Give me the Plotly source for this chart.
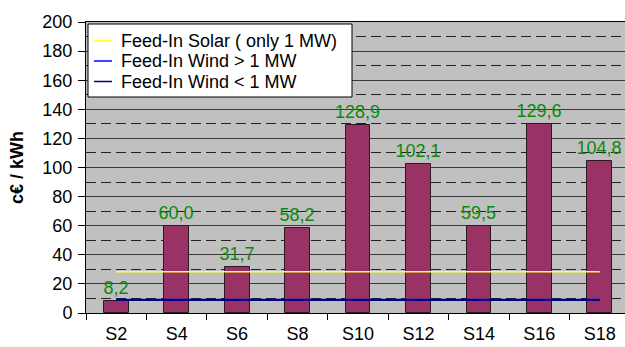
import plotly.graph_objects as go

# Categories and tariff values (c€ / kWh)
categories = ["S2", "S4", "S6", "S8", "S10", "S12", "S14", "S16", "S18"]
costs = [8.2, 60.0, 31.7, 58.2, 128.9, 102.1, 59.5, 129.6, 104.8]

# Reference feed-in tariffs
tariff_names = ["Feed-In Solar ( only 1 MW)", "Feed-In Wind > 1 MW", "Feed-In Wind < 1 MW"]
tariff_values = [28.4, 9.1, 8.9]
tariff_colors = ["#FFFF33", "#0000FF", "#000080"]
tariff_widths = [1.5, 2, 2]

font_family = "Liberation Sans, Arial, sans-serif"
n = len(categories)

W, H = 625, 347
ML, MR, MT, MB = 86, 0, 22, 34


def px_x(p):
    return (p - ML) / (W - ML - MR)


def px_y(p):
    return (H - MB - p) / (H - MT - MB)


fig = go.Figure()

fig.add_trace(go.Bar(
    x=categories, y=costs,
    width=0.41,
    marker=dict(color="#993366", line=dict(color="#2a1a20", width=1)),
    texttemplate="%{y:.1f}",
    textposition="outside",
    textangle=0,
    constraintext="none",
    textfont=dict(color="#0a8a0a", size=18, family=font_family),
    cliponaxis=False,
    showlegend=False,
))

for name, val, col, w in zip(tariff_names, tariff_values, tariff_colors, tariff_widths):
    fig.add_trace(go.Scatter(
        x=categories, y=[val] * n,
        mode="lines",
        line=dict(color=col, width=w),
        name=name,
        showlegend=False,
    ))

# Compact boxed legend in the upper-left corner of the plot area
shapes = [dict(
    type="rect", xref="paper", yref="paper",
    x0=px_x(88), x1=px_x(352), y0=px_y(97), y1=px_y(24),
    fillcolor="white", line=dict(color="black", width=1), layer="above",
)]
annotations = []
row_y = [40.5, 61, 81.5]
for name, col, ry in zip(tariff_names, tariff_colors, row_y):
    shapes.append(dict(
        type="line", xref="paper", yref="paper",
        x0=px_x(94), x1=px_x(112), y0=px_y(ry), y1=px_y(ry),
        line=dict(color=col, width=1.5), layer="above",
    ))
    annotations.append(dict(
        text=name, xref="paper", yref="paper",
        x=px_x(119), y=px_y(ry), xanchor="left", yanchor="middle",
        showarrow=False, font=dict(size=18, family=font_family, color="black"),
    ))

fig.update_layout(
    width=W, height=H,
    margin=dict(l=ML, r=MR, t=MT, b=MB),
    paper_bgcolor="white",
    plot_bgcolor="#C0C0C0",
    separators=",.",
    font=dict(family=font_family, size=18, color="black"),
    bargap=0,
    showlegend=False,
    shapes=shapes,
    annotations=annotations,
)

fig.update_xaxes(
    type="category",
    range=[-0.5, 8.417],
    tickson="boundaries",
    ticks="outside", ticklen=6, tickcolor="black",
    showline=True, linecolor="black", linewidth=1, mirror=True,
    showgrid=False,
    tickfont=dict(size=18),
    ticklabelstandoff=4,
)

fig.update_yaxes(
    range=[0, 200],
    dtick=20,
    ticks="outside", ticklen=7, tickcolor="black",
    showline=True, linecolor="black", linewidth=1,
    showgrid=True, gridcolor="#3a3a3a", gridwidth=1,
    zeroline=False,
    minor=dict(dtick=10, showgrid=True, gridcolor="#222222",
               griddash="10px,5px", gridwidth=1),
    tickfont=dict(size=18),
    ticklabelstandoff=2,
    title=dict(text="<b>c€ / kWh</b>", font=dict(size=18), standoff=14),
)

fig.write_html("out.html")
